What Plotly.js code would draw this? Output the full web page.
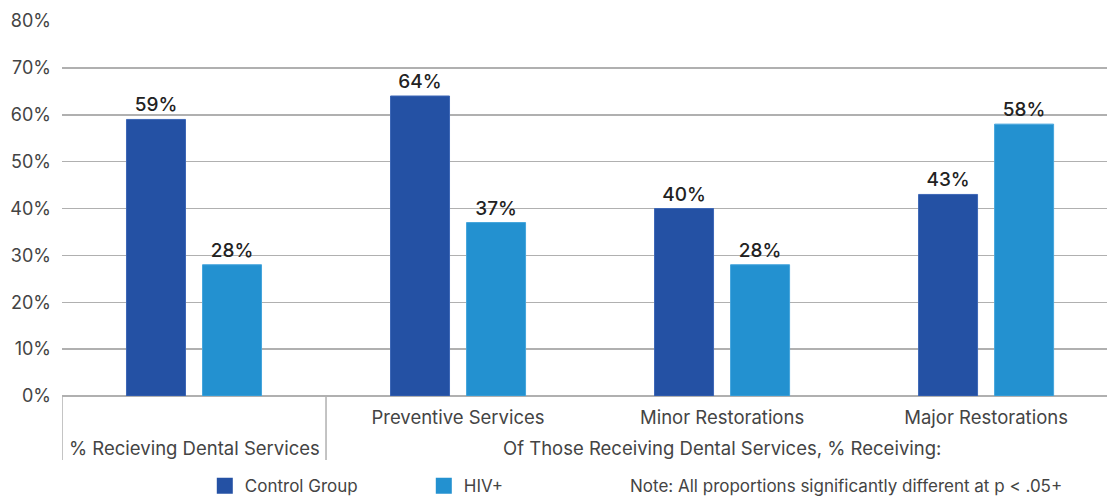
<!DOCTYPE html>
<html>
<head>
<meta charset="utf-8">
<script src="https://cdn.plot.ly/plotly-3.0.1.min.js"></script>
<style>
  html, body { margin: 0; padding: 0; background: #fff; }
  #chart { width: 1107px; height: 496px; }
</style>
</head>
<body>
<div id="chart"></div>
<script>
const innerLabels = [' ', 'Preventive Services', 'Minor Restorations', 'Major Restorations'];
const outerLabels = ['% Recieving Dental Services', 'Of Those Receiving Dental Services, % Receiving:'];
const outerCenters = [' ', 'Minor Restorations'];
const controlGroup = [59, 64, 40, 43];
const hivPlus = [28, 37, 28, 58];
const yTicks = [0, 10, 20, 30, 40, 50, 60, 70, 80];
const noteText = 'Note: All proportions significantly different at p < .05+';

const FONT = 'Inter, Roboto, "Liberation Sans", Arial, sans-serif';
const GRID = '#b0b0b0';
const TXT = '#444';

const traces = [
  {
    type: 'bar', name: 'Control Group', showlegend: false,
    x: innerLabels, y: controlGroup,
    marker: { color: '#2451A4', line: { color: '#3d67b6', width: 1 } },
    text: controlGroup.map(v => v + '%'), textposition: 'outside',
    textfont: { family: FONT, size: 19, color: '#222', weight: 500 },
    cliponaxis: false, hoverinfo: 'none'
  },
  {
    type: 'bar', name: 'HIV+', showlegend: false,
    x: innerLabels, y: hivPlus,
    marker: { color: '#2391D0', line: { color: '#45a5dc', width: 1 } },
    text: hivPlus.map(v => v + '%'), textposition: 'outside',
    textfont: { family: FONT, size: 19, color: '#222', weight: 500 },
    cliponaxis: false, hoverinfo: 'none'
  },
  {
    type: 'scatter', mode: 'markers', name: 'Control Group',
    x: [null], y: [null], hoverinfo: 'none',
    marker: { symbol: 'square', size: 18, color: '#2451A4' }
  },
  {
    type: 'scatter', mode: 'markers', name: 'HIV+',
    x: [null], y: [null], hoverinfo: 'none',
    marker: { symbol: 'square', size: 18, color: '#2391D0' }
  }
];

const layout = {
  width: 1107, height: 496,
  margin: { l: 62, r: 0, t: 21, b: 100 },
  paper_bgcolor: '#fff', plot_bgcolor: '#fff',
  font: { family: FONT, size: 17, color: TXT },
  barmode: 'group', bargap: 0.424, bargroupgap: 0.224,
  showlegend: true,
  legend: {
    orientation: 'h', xref: 'container', yref: 'container',
    x: 0.185, xanchor: 'left', y: 0.02, yanchor: 'middle',
    entrywidth: 174, entrywidthmode: 'pixels',
    font: { family: FONT, size: 17, color: TXT }
  },
  xaxis: {
    type: 'category', range: [-0.5, 3.458],
    showgrid: false, showline: false, zeroline: false,
    ticks: '', ticklabelstandoff: 8, automargin: false,
    tickfont: { family: FONT, size: 18.5, color: TXT },
    fixedrange: true
  },
  yaxis: {
    range: [0, 80], tickmode: 'array', tickvals: yTicks,
    ticktext: yTicks.map(v => v + '%'),
    showgrid: true, gridcolor: GRID, gridwidth: 1.5,
    zeroline: true, zerolinecolor: GRID, zerolinewidth: 1.5,
    showline: false, ticklabelstandoff: 10, automargin: false,
    tickfont: { family: FONT, size: 18, color: TXT },
    fixedrange: true
  },
  shapes: [-0.5, 0.5].map(xv => ({
    type: 'line', xref: 'x', yref: 'paper',
    x0: xv, x1: xv, y0: 0, y1: -0.1707,
    line: { color: GRID, width: 1.5 }
  })),
  annotations: [
    ...outerLabels.map((t, i) => ({
      text: t, xref: 'x', yref: 'paper', x: outerCenters[i], y: -0.1387,
      xanchor: 'center', yanchor: 'middle', showarrow: false,
      font: { family: FONT, size: 18.5, color: TXT }
    })),
    {
      text: noteText, xref: 'paper', yref: 'paper',
      x: 0.5416, y: -0.24, xanchor: 'left', yanchor: 'middle',
      showarrow: false, font: { family: FONT, size: 17, color: TXT }
    }
  ]
};

Plotly.newPlot('chart', traces, layout, { displayModeBar: false, staticPlot: true });
</script>
</body>
</html>
